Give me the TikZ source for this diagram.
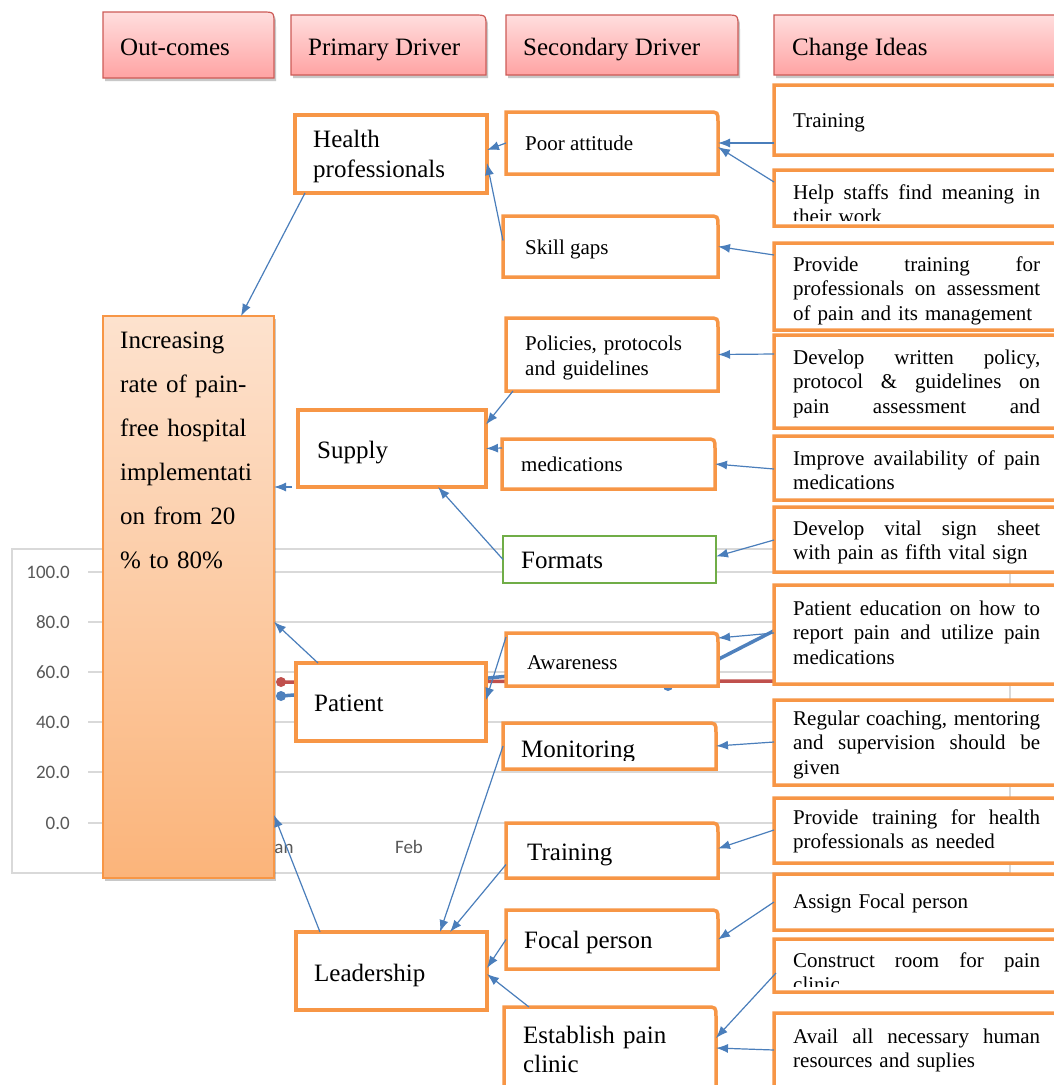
\documentclass[tikz,border=0pt]{standalone}
\usepackage{fontspec}
\setmainfont{Liberation Serif}
\newfontfamily\chartfont{Carlito}
\usetikzlibrary{arrows.meta,shadows,fit,calc}
\setlength{\parindent}{0pt}
\definecolor{org}{HTML}{F79646}
\definecolor{arrb}{HTML}{4A7EBB}
\definecolor{grn}{HTML}{70AD47}
\definecolor{hdtop}{HTML}{FFDEDE}
\definecolor{hdbot}{HTML}{FFA3A3}
\definecolor{hdline}{HTML}{CD5B57}
\definecolor{outtop}{HTML}{FDE2CE}
\definecolor{outbot}{HTML}{FBB47A}
\definecolor{gridc}{HTML}{D9D9D9}
\definecolor{labc}{HTML}{595959}
\definecolor{sred}{HTML}{C0504D}
\definecolor{sblue}{HTML}{4F81BD}

\newcommand\jl[2][247pt]{\makebox[#1][s]{\spaceskip=0.25em plus 1fil\relax #2}}
\newcommand\rtr[3]{\path[#3] (#1.south west) -- (#1.north west) -- ([xshift=-#2pt]#1.north east) .. controls (#1.north east) .. ([yshift=-#2pt]#1.north east) -- (#1.south east) -- cycle;}
\newcommand\mkarea[5]{\node[fit={(#2,#3) (#4,#5)}, inner sep=0pt, outer sep=0pt] (#1) {};}
\newcommand\primbox[5]{\mkarea{#1}{#2}{#3}{#4}{#5}\path[fill=white, draw=org, line width=3.5pt] (#1.south west) rectangle (#1.north east);}
\newcommand\secbox[5]{\mkarea{#1}{#2}{#3}{#4}{#5}\rtr{#1}{10}{fill=white, draw=org, line width=3.5pt}}
\newcommand\ideabx[5]{%
  \mkarea{#1}{774}{#2}{1058}{#3}%
  \rtr{#1}{10}{fill=white}%
  \begin{scope}
    \clip ([yshift=6pt]#1.south west) rectangle (#1.north east);
    \node[itxt, anchor=north west] (#1t) at (793,#4-15) {\rule{0pt}{15pt}#5};
  \end{scope}
  \rtr{#1}{10}{draw=org, line width=3.5pt}}

\tikzset{
  bigtxt/.style={font=\fontsize{25}{30}\selectfont, inner sep=0pt},
  smtxt/.style={font=\fontsize{21}{25}\selectfont, inner sep=0pt},
  itxt/.style={font=\fontsize{21}{24.5}\selectfont, text width=252pt, align=left, inner sep=0pt},
  chartlab/.style={font=\chartfont\fontsize{19}{22}\selectfont, text=labc, inner sep=0pt},
  arr/.style={draw=arrb, line width=1.2pt, -{Latex[length=12pt,width=9pt]}},
  hdshadow/.style={drop shadow={shadow xshift=2pt, shadow yshift=-3pt, opacity=0.3, fill=black!70}},
}

\begin{document}
\begin{tikzpicture}[x=1pt,y=-1pt]
\useasboundingbox (0,0) rectangle (1053,1085);
\fill[white] (0,0) rectangle (1053,1085);

% ---------- background chart ----------
\draw[gridc, line width=1.5pt] (12,549) rectangle (1010,873);
\foreach \yy/\lab in {572/100.0, 622/80.0, 672/60.0, 722/40.0, 772/20.0, 823/0.0}{
  \draw[gridc, line width=1.3pt] (88,\yy) -- (1000,\yy);
  \node[chartlab, anchor=base east] (lab\yy) at (70,\yy+6) {\lab};
}
\node[chartlab, anchor=base] (jan) at (281,853) {Jan};
\node[chartlab, anchor=base] (feb) at (409,853) {Feb};
\draw[sred, line width=3.5pt] (281,682) -- (408,682) -- (539,681) -- (668,681) -- (799,681) -- (930,681);
\draw[sblue, line width=3.5pt] (281,696) -- (408,686) -- (539,673) -- (668,685) -- (799,618);
\foreach \px/\py in {281/682, 408/682, 539/681, 668/681, 799/681}{\fill[sred] (\px,\py) circle (5);}
\foreach \px/\py in {281/696, 408/686, 539/673, 668/686, 799/618}{\fill[sblue] (\px,\py) circle (5);}

% ---------- headers ----------
\mkarea{h1}{103}{12}{274}{78}
\rtr{h1}{12}{hdshadow, top color=hdtop, bottom color=hdbot, draw=hdline, line width=1.2pt}
\mkarea{h2}{291}{15}{486}{75}
\rtr{h2}{12}{hdshadow, top color=hdtop, bottom color=hdbot, draw=hdline, line width=1.2pt}
\mkarea{h3}{506}{15}{738}{75}
\rtr{h3}{12}{hdshadow, top color=hdtop, bottom color=hdbot, draw=hdline, line width=1.2pt}
\mkarea{h4}{774}{15}{1062}{75}
\rtr{h4}{12}{hdshadow, top color=hdtop, bottom color=hdbot, draw=hdline, line width=1.2pt}
\node[bigtxt, anchor=base west] (h1t) at (120,55) {Out-comes};
\node[bigtxt, anchor=base west] (h2t) at (308,55) {Primary Driver};
\node[bigtxt, anchor=base west] (h3t) at (523,55) {Secondary Driver};
\node[bigtxt, anchor=base west] (h4t) at (792,55) {Change Ideas};

% ---------- outcome ----------
\mkarea{out}{103}{316}{274}{878}
\path[hdshadow, top color=outtop, bottom color=outbot, draw=org, line width=1.2pt] (out.south west) rectangle (out.north east);
\node[font=\fontsize{25}{44}\selectfont, text width=150pt, align=left, inner sep=0pt, anchor=north west] (outt) at (120,329)
  {\rule{0pt}{19pt}Increasing\\rate of pain-\\free hospital\\implementati\\on from 20\\\% to 80\%};

% ---------- primary drivers ----------
\primbox{hp}{295}{115}{487}{193}
\node[font=\fontsize{25}{30}\selectfont, text width=170pt, align=left, inner sep=0pt, anchor=north west] (hpt) at (313,128)
  {\rule{0pt}{19pt}Health\\professionals};
\primbox{sup}{298}{410}{486}{487}
\node[bigtxt, anchor=base west] (supt) at (317,458) {Supply};
\primbox{pat}{296}{663}{486}{741}
\node[bigtxt, anchor=base west] (patt) at (314,711) {Patient};
\primbox{lead}{296}{932}{487}{1010}
\node[bigtxt, anchor=base west] (leadt) at (314,981) {Leadership};

% ---------- secondary drivers ----------
\secbox{poor}{506}{112}{718}{174}
\node[smtxt, anchor=base west] (poort) at (525,150) {Poor attitude};
\secbox{skill}{503}{216}{718}{277}
\node[smtxt, anchor=base west] (skillt) at (525,254) {Skill gaps};
\secbox{pol}{506}{318}{718}{391}
\node[font=\fontsize{21}{25}\selectfont, text width=190pt, align=left, inner sep=0pt, anchor=north west] (polt) at (525,335)
  {\rule{0pt}{15pt}Policies, protocols\\and guidelines};
\secbox{med}{502}{439}{715}{489}
\node[smtxt, anchor=base west] (medt) at (521,471) {medications};
\mkarea{fmt}{503}{536}{716}{583}
\path[fill=white, draw=grn, line width=2pt] (fmt.south west) rectangle (fmt.north east);
\node[bigtxt, anchor=base west] (fmtt) at (521,568) {Formats};
\secbox{aw}{506}{633}{718}{686}
\node[smtxt, anchor=base west] (awt) at (527,669) {Awareness};
\mkarea{mon}{503}{723}{716}{769}
\rtr{mon}{10}{fill=white}
\begin{scope}
  \clip (503,723) rectangle (716,760);
  \node[bigtxt, anchor=base west] (mont) at (521,757) {Monitoring};
\end{scope}
\rtr{mon}{10}{draw=org, line width=3.5pt}
\secbox{trn}{506}{823}{718}{878}
\node[bigtxt, anchor=base west] (trnt) at (527,860) {Training};
\secbox{foc}{506}{910}{718}{969}
\node[bigtxt, anchor=base west] (foct) at (524,948) {Focal person};
\secbox{est}{504}{1007}{716}{1095}
\node[font=\fontsize{25}{29}\selectfont, text width=190pt, align=left, inner sep=0pt, anchor=north west] (estt) at (523,1024)
  {\rule{0pt}{19pt}Establish pain\\clinic};

% ---------- change ideas ----------
\ideabx{i1}{85}{155}{127}{Training}
\ideabx{i2}{170}{226}{199}{\jl{Help staffs find meaning in}\\their work}
\ideabx{i3}{243}{330}{271}{\jl{Provide training for}\\\jl{professionals on assessment}\\of pain and its management}
\ideabx{i4}{335}{428}{364}{\jl{Develop written policy,}\\\jl{protocol \& guidelines on}\\\jl{pain assessment and}}
\ideabx{i5}{436}{500}{465}{\jl{Improve availability of pain}\\medications}
\ideabx{i6}{507}{572}{535}{\jl{Develop vital sign sheet}\\with pain as fifth vital sign}
\ideabx{i7}{585}{684}{615}{\jl{Patient education on how to}\\\jl{report pain and utilize pain}\\medications}
\ideabx{i8}{700}{785}{725}{\jl{Regular coaching, mentoring}\\\jl{and supervision should be}\\given}
\ideabx{i9}{798}{863}{824}{\jl{Provide training for health}\\professionals as needed}
\ideabx{i10}{874}{930}{908}{Assign Focal person}
\ideabx{i11}{939}{992}{967}{\jl{Construct room for pain}\\clinic}
\ideabx{i12}{1013}{1095}{1043}{\jl{Avail all necessary human}\\resources and suplies}

% ---------- connectors ----------
\draw[arr] ([xshift=10pt]hp.south west) -- ([xshift=138pt]out.north west);
\draw[arr] ([xshift=-6pt]sup.south west) -- (out.east |- sup.south west);
\draw[arr] ([xshift=22pt]pat.north west) -- ([yshift=-25pt]out.east);
\draw[arr] ([xshift=24pt]lead.north west) -- ([yshift=-218pt]out.east);

\draw[arr] (poor.west) -- ([yshift=4pt]hp.east);
\draw[arr] ([yshift=6pt]skill.west) -- ([yshift=-9pt]hp.east);
\draw[arr] ([xshift=7pt]pol.south west) -- ([yshift=24pt]sup.east);
\draw[arr] ([yshift=16pt]med.west) -- (sup.east);
\draw[arr] (fmt.west) -- ([xshift=46pt]sup.south);
\draw[arr] ([yshift=-4pt]aw.north west) -- ([yshift=2pt]pat.east);
\draw[arr] (mon.west) -- ([xshift=144pt]lead.north west);
\draw[arr] ([yshift=-14pt]trn.west) -- ([xshift=154pt]lead.north west);
\draw[arr] (foc.west) -- ([yshift=3pt]lead.east);
\draw[arr] ([xshift=25pt]est.north west) -- ([yshift=-3pt]lead.east);

\draw[arr] ([yshift=-23pt]i1.west) -- (poor.east);
\draw[arr] ([yshift=-12pt]i2.north west) -- ([yshift=-4pt]poor.east);
\draw[arr] ([yshift=-12pt]i3.north west) -- (skill.east);
\draw[arr] ([yshift=-19pt]i4.north west) -- (pol.east);
\draw[arr] ([yshift=-33pt]i5.north west) -- (med.east);
\draw[arr] ([yshift=-33pt]i6.north west) -- ([yshift=3pt]fmt.east);
\draw[arr] ([yshift=-48pt]i7.north west) -- ([yshift=-5pt]aw.north east);
\draw[arr] ([yshift=-42pt]i8.north west) -- (mon.east);
\draw[arr] ([yshift=-32pt]i9.north west) -- ([yshift=2pt]trn.east);
\draw[arr] ([yshift=-28pt]i10.north west) -- (foc.east);
\draw[arr] ([xshift=2pt,yshift=-34pt]i11.north west) -- ([yshift=13pt]est.east);
\draw[arr] ([yshift=-37pt]i12.north west) -- ([yshift=3pt]est.east);
\end{tikzpicture}
\end{document}
